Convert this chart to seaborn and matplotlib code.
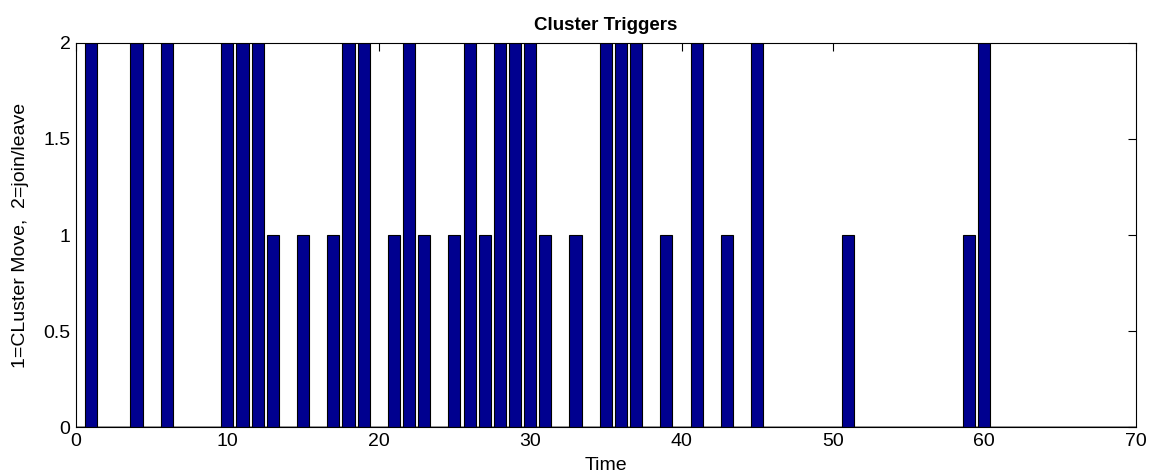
import matplotlib
matplotlib.use("Agg")
import matplotlib.pyplot as plt
import seaborn as sns
import pandas as pd

# Trigger events: time step and trigger type (1 = cluster move, 2 = join/leave)
times = [1, 4, 6, 10, 11, 12, 13, 15, 17, 18, 19, 21, 22, 23, 25, 26, 27, 28,
         29, 30, 31, 33, 35, 36, 37, 39, 41, 43, 45, 51, 59, 60]
trigger = [2, 2, 2, 2, 2, 2, 1, 1, 1, 2, 2, 1, 2, 1, 1, 2, 1, 2,
           2, 2, 1, 1, 2, 2, 2, 1, 2, 1, 2, 1, 1, 2]
xticks = [0, 10, 20, 30, 40, 50, 60, 70]
yticks = [0, 0.5, 1, 1.5, 2]

df = pd.DataFrame({"Time": times, "Trigger": trigger})

sns.set_style("white")
plt.rcParams["font.family"] = ["Liberation Sans", "DejaVu Sans"]
plt.rcParams["text.color"] = "black"
plt.rcParams["axes.labelcolor"] = "black"

fig = plt.figure(figsize=(11.49, 4.76), dpi=100)
ax = fig.add_axes([0.0661, 0.1029, 0.9223, 0.8068])

sns.barplot(data=df, x="Time", y="Trigger", native_scale=True, width=0.8,
            color="#00008F", saturation=1, edgecolor="black", linewidth=0.8,
            errorbar=None, ax=ax)

ax.axhline(0, color="#888888", lw=1.2, zorder=0)
ax.set_xlim(0, 70)
ax.set_ylim(0, 2)
ax.set_xticks(xticks)
ax.set_xticklabels([str(t) for t in xticks])
ax.set_yticks(yticks)
ax.set_yticklabels(["0", "0.5", "1", "1.5", "2"])
ax.tick_params(direction="in", length=6, width=0.8, top=True, right=True,
               labelsize=14, colors="black", pad=4)
for s in ax.spines.values():
    s.set_visible(True)
    s.set_color("black")
    s.set_linewidth(0.8)

ax.set_xlabel("Time", fontsize=14, labelpad=5)
ax.set_ylabel("1=CLuster Move,  2=join/leave", fontsize=14, labelpad=10)
ax.set_title("Cluster Triggers", fontsize=13.5, fontweight="bold", pad=9)

fig.savefig("out.png", dpi=100)
